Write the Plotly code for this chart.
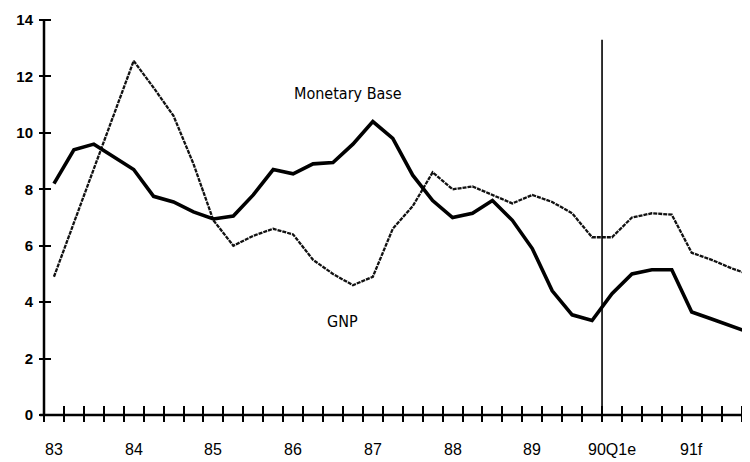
import plotly.graph_objects as go

# ---- data (quarterly, 83Q1 .. 91Q4) ----
quarters = [f"{y}Q{q}" for y in range(83, 92) for q in range(1, 5)]
monetary_base = [8.2, 9.4, 9.6, 9.15, 8.7, 7.75, 7.55, 7.2, 6.95, 7.05, 7.8, 8.7,
                 8.55, 8.9, 8.95, 9.6, 10.4, 9.8, 8.5, 7.6, 7.0, 7.15, 7.6, 6.9,
                 5.9, 4.4, 3.55, 3.35, 4.3, 5.0, 5.15, 5.15, 3.65, 3.4, 3.15, 2.9]
gnp = [4.9, 6.8, 8.7, 10.6, 12.55, 11.6, 10.6, 8.9, 6.9, 6.0, 6.35, 6.6,
       6.4, 5.5, 5.0, 4.6, 4.9, 6.6, 7.4, 8.6, 8.0, 8.1, 7.8, 7.5,
       7.8, 7.55, 7.15, 6.3, 6.3, 7.0, 7.15, 7.1, 5.75, 5.5, 5.2, 4.95]
year_labels = ["83", "84", "85", "86", "87", "88", "89", "90Q1e", "91f"]
label_years = [83, 84, 85, 86, 87, 88, 89, 90, 91]
y_ticks = [0, 2, 4, 6, 8, 10, 12, 14]
forecast_start = 90.0
vline_top = 13.3

# quarter centre positions in fractional years
x_pos = [int(s[:2]) + (int(s[3]) - 0.5) / 4 for s in quarters]
boundaries = [83 + i / 4 for i in range(0, 37)]
label_pos = [y + 0.125 for y in label_years]

X_RANGE = [83.0, 91.856]
Y_RANGE = [0, 14]

W, H = 742, 454
M = dict(l=36, r=0, t=12, b=47)
PLOT_W = W - M["l"] - M["r"]
PLOT_H = H - M["t"] - M["b"]

COND = "DejaVu Sans Condensed, Liberation Sans Narrow, Arial Narrow, sans-serif"
SANS = "Liberation Sans, Arial, sans-serif"

fig = go.Figure()
fig.add_trace(go.Scatter(x=x_pos, y=gnp, mode="lines",
                         line=dict(color="#111", width=2.3, dash="4px,1px"),
                         hoverinfo="skip", showlegend=False))
fig.add_trace(go.Scatter(x=x_pos, y=monetary_base, mode="lines",
                         line=dict(color="black", width=3.6),
                         hoverinfo="skip", showlegend=False))

# axis lines
fig.add_shape(type="line", xref="paper", yref="paper", x0=-0.006, x1=1, y0=0, y1=0,
              line=dict(color="black", width=2.5))
fig.add_shape(type="line", xref="paper", yref="paper", x0=0, x1=0, y0=0, y1=1,
              line=dict(color="black", width=2.5))
# forecast divider
fig.add_shape(type="line", xref="x", yref="y", x0=forecast_start, x1=forecast_start,
              y0=0, y1=vline_top, line=dict(color="black", width=1.6))

# year labels centred in first quarter of each year
for xp, txt in zip(label_pos, year_labels):
    fig.add_annotation(x=xp, y=0, xref="x", yref="paper", text=txt, showarrow=False,
                       yanchor="top", yshift=-24,
                       font=dict(family=SANS, size=16, color="black"))

fig.add_annotation(x=86.81, y=11.41, text="Monetary Base", showarrow=False,
                   font=dict(family=COND, size=16, color="black"))
fig.add_annotation(x=86.75, y=3.3, text="GNP", showarrow=False,
                   font=dict(family=COND, size=16, color="black"))

X_IN, X_OUT = 10, 6
Y_IN, Y_OUT = 7, 5
fig.update_layout(
    width=W, height=H, margin=M,
    paper_bgcolor="white", plot_bgcolor="white",
    xaxis=dict(range=X_RANGE, tickmode="array", tickvals=boundaries,
               anchor="free", position=X_IN / PLOT_H,
               ticks="outside", ticklen=X_IN + X_OUT, tickwidth=2, tickcolor="black",
               showticklabels=False, showline=False, showgrid=False, zeroline=False,
               automargin=False),
    yaxis=dict(range=Y_RANGE, tickmode="array", tickvals=y_ticks,
               anchor="free", position=Y_IN / PLOT_W,
               ticks="outside", ticklen=Y_IN + Y_OUT, tickwidth=2, tickcolor="black",
               ticklabelstandoff=3,
               tickfont=dict(family=SANS, size=15, color="black", weight="bold"),
               showline=False, showgrid=False, zeroline=False, automargin=False),
)

fig.write_html("out.html")
